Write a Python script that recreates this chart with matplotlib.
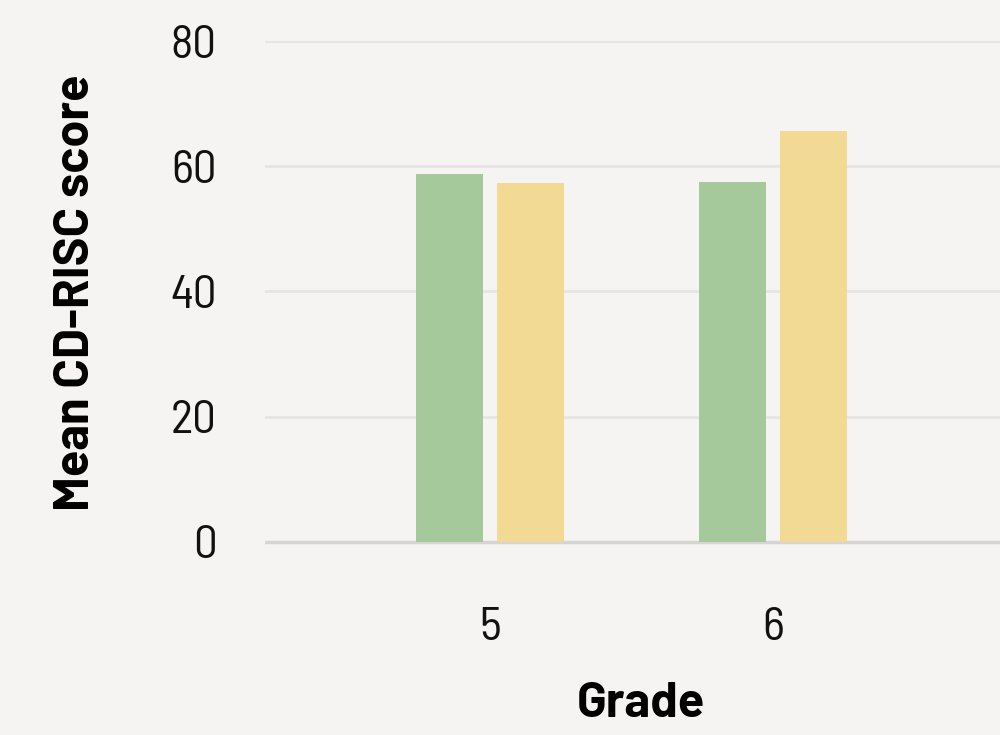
import matplotlib
matplotlib.use("Agg")
import matplotlib.pyplot as plt
from matplotlib import font_manager
import numpy as np

grades = ["5", "6"]
series_a = [58.8, 57.5]   # green
series_b = [57.3, 65.6]   # yellow
yticks = [0, 20, 40, 60, 80]

names = {f.name for f in font_manager.fontManager.ttflist}
def pick(cands):
    for c in cands:
        if c in names:
            return c
    return "DejaVu Sans"
tick_fam = pick(["Barlow Semi Condensed", "Barlow Condensed", "Roboto Condensed"])
lab_fam = pick(["Barlow", "Barlow Semi Condensed", "Roboto"])
plt.rcParams['font.family'] = [tick_fam, 'DejaVu Sans']

bg = "#f5f4f2"
fig = plt.figure(figsize=(10, 7.35), dpi=100, facecolor=bg)
ax = fig.add_axes([0.265, (735-545)/735, 0.735, (545-41)/735])
ax.set_facecolor(bg)

x = np.arange(len(grades))
w = 0.237
off = 0.143
ax.bar(x - off, series_a, width=w, color="#a5c99a", zorder=3)
ax.bar(x + off, series_b, width=w, color="#f2da94", zorder=3)

ax.set_xlim(-0.795, 1.80)
ax.set_ylim(-0.5, 80)
ax.set_yticks(yticks)
ax.set_yticklabels([str(t) for t in yticks])
ax.set_xticks(x)
ax.set_xticklabels(grades)
for t in yticks[1:]:
    ax.axhline(t, color="#e6e5e3", lw=2, zorder=1)
ax.axhline(0, color="#d6d5d3", lw=2.5, zorder=2)

for s in ax.spines.values():
    s.set_visible(False)
ax.tick_params(axis='both', length=0, labelsize=34, colors="#111111")
ax.tick_params(axis='y', pad=35)
ax.tick_params(axis='x', pad=45)
for lab in ax.get_xticklabels() + ax.get_yticklabels():
    lab.set_fontweight('normal')
    lab.set_family([tick_fam, 'DejaVu Sans'])

ax.set_xlabel("Grade", fontsize=35, fontweight='bold',
              family=[lab_fam, 'DejaVu Sans'])
ax.set_ylabel("Mean CD-RISC score", fontsize=35, fontweight='bold', labelpad=52,
              family=[lab_fam, 'DejaVu Sans'])
ax.xaxis.set_label_coords(0.511, -0.272)

fig.savefig("out.png", dpi=100, facecolor=bg)
